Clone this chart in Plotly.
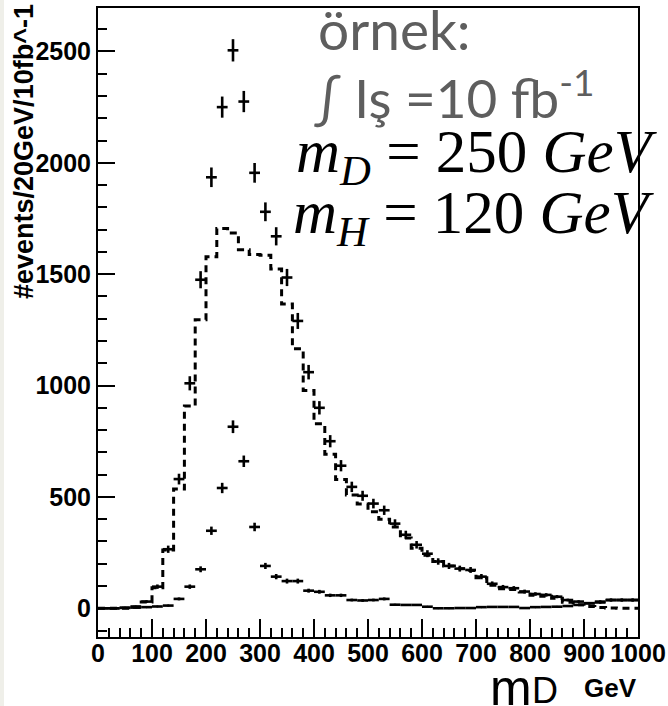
import numpy as np
import plotly.graph_objects as go

# ---- data (20 GeV bins, bin centres) ----
bin_centers = list(range(10, 1000, 20))
bin_width = 20

# dashed histogram (background)
background = [0, 0, 0, 5, 28, 92, 262, 535, 908, 1295,
              1578, 1705, 1685, 1610, 1588, 1585, 1523, 1366, 1165, 978,
              828, 692, 578, 508, 468, 433, 400, 365, 316, 270,
              238, 210, 190, 177, 170, 137, 103, 88, 84, 73,
              58, 54, 45, 27, 16, 8, 4, 1, 0, 0]

# upper crosses (signal + background)
sig_plus_bkg = [0, 0, 2, 8, 30, 97, 265, 580, 1010, 1475,
                1935, 2250, 2505, 2275, 1955, 1780, 1670, 1485, 1290, 1060,
                900, 750, 640, 545, 505, 470, 440, 380, 330, 285,
                245, 210, 190, 178, 172, 142, 110, 95, 90, 75,
                64, 60, 52, 37, 30, 23, 30, 38, 38, 38]

# lower crosses (signal)
signal = [0, 0, 2, 3, 5, 8, 12, 42, 97, 175,
          348, 540, 815, 660, 365, 190, 142, 122, 122, 79,
          74, 58, 58, 37, 35, 37, 42, 16, 15, 15,
          7, 0, 0, 1, 1, 5, 6, 6, 6, 1,
          5, 6, 7, 10, 15, 22, 26, 36, 36, 36]

x_ticks = list(range(0, 1001, 100))
y_ticks = list(range(0, 2501, 500))

# ---- geometry helpers (pixel -> paper) ----
L, R, T, B = 98, 30, 8, 69
W, H = 668, 706
PW, PH = W - L - R, H - T - B


def px(xp):
    return (xp - L) / PW


def py(yp):
    return (H - B - yp) / PH


edges = [c - bin_width / 2 for c in bin_centers] + [bin_centers[-1] + bin_width / 2]
step_y = background + [background[-1]]

fig = go.Figure()
fig.add_trace(go.Scatter(
    x=edges, y=step_y, mode="lines", line_shape="hv",
    line=dict(color="black", width=3, dash="7px,5px"),
    hoverinfo="skip", showlegend=False))

for vals in (signal, sig_plus_bkg):
    fig.add_trace(go.Scatter(
        x=bin_centers, y=vals, mode="markers",
        marker=dict(size=2, color="black"),
        error_x=dict(type="constant", value=bin_width / 2, width=0,
                     thickness=2.6, color="black"),
        error_y=dict(type="data", array=np.sqrt(vals).tolist(), width=0,
                     thickness=2.6, color="black"),
        showlegend=False))

tickfont = dict(family="Liberation Sans, Arial, sans-serif", size=25,
                color="black", weight="bold")

fig.update_layout(
    width=W, height=H,
    margin=dict(l=L, r=R, t=T, b=B, pad=0, autoexpand=False),
    paper_bgcolor="white", plot_bgcolor="white",
    showlegend=False,
    xaxis=dict(range=[0, 1000], tickmode="array", tickvals=x_ticks,
               ticktext=[str(v) for v in x_ticks], automargin=False,
               ticks="inside", ticklen=18, tickwidth=1.6, tickcolor="black",
               ticklabelstandoff=-7,
               minor=dict(ticks="inside", ticklen=9, dtick=20, tick0=0,
                          tickwidth=1.6, tickcolor="black"),
               showline=True, linewidth=2, linecolor="black", mirror=True,
               showgrid=False, zeroline=False, tickfont=tickfont),
    yaxis=dict(range=[-129, 2695], tickmode="array", tickvals=y_ticks,
               ticktext=[str(v) for v in y_ticks], automargin=False,
               ticks="inside", ticklen=17, tickwidth=1.6, tickcolor="black",
               minor=dict(ticks="inside", ticklen=9, dtick=100, tick0=0,
                          tickwidth=1.6, tickcolor="black"),
               showline=True, linewidth=2, linecolor="black", mirror=True,
               showgrid=False, zeroline=False, tickfont=tickfont),
)

# light strip at the left edge of the picture
fig.add_shape(type="rect", xref="paper", yref="paper",
              x0=px(0), x1=px(4), y0=py(H), y1=py(0),
              fillcolor="#efefe9", line=dict(width=0), layer="below")

ann = []
# y-axis title
ann.append(dict(text="#events/20GeV/10fb^-1", textangle=-90,
                x=px(24), y=py(152), xanchor="center", yanchor="middle",
                font=dict(family="Liberation Sans, Arial, sans-serif", size=27,
                          color="black", weight="bold")))
# x-axis title
ann.append(dict(text="m", x=px(488), y=py(718), xanchor="left", yanchor="bottom",
                font=dict(family="Liberation Sans, Arial, sans-serif", size=50, color="black")))
ann.append(dict(text="D", x=px(530), y=py(713), xanchor="left", yanchor="bottom",
                font=dict(family="Liberation Sans, Arial, sans-serif", size=36, color="black")))
ann.append(dict(text="GeV", x=px(582), y=py(705), xanchor="left", yanchor="bottom",
                font=dict(family="Liberation Sans, Arial, sans-serif", size=26,
                          color="black", weight="bold")))
# overlay text
gray = "#5e5e5e"
ann.append(dict(text="örnek:", x=px(316), y=py(50 - 2 - 0.987 * 55), xanchor="left",
                yanchor="top", font=dict(family="Lato", size=55, color=gray)))
ann.append(dict(text="∫ Iş =10 fb<sup>-1</sup>", x=px(312), y=py(118 + 0.213 * 53 + 2),
                xanchor="left", yanchor="bottom",
                font=dict(family="Lato", size=53, color=gray)))
ann.append(dict(text="<i>m</i><sub><i>D</i></sub> = 250 <i>GeV</i>", x=px(294),
                y=py(172 - 2 - 0.891 * 61), xanchor="left", yanchor="top",
                font=dict(family="Liberation Serif", size=61, color="black")))
ann.append(dict(text="<i>m</i><sub><i>H</i></sub> = 120 <i>GeV</i>", x=px(291),
                y=py(233 - 2 - 0.891 * 61), xanchor="left", yanchor="top",
                font=dict(family="Liberation Serif", size=61, color="black")))

for a in ann:
    a.update(xref="paper", yref="paper", showarrow=False)
fig.update_layout(annotations=ann)

fig.write_html("out.html")
